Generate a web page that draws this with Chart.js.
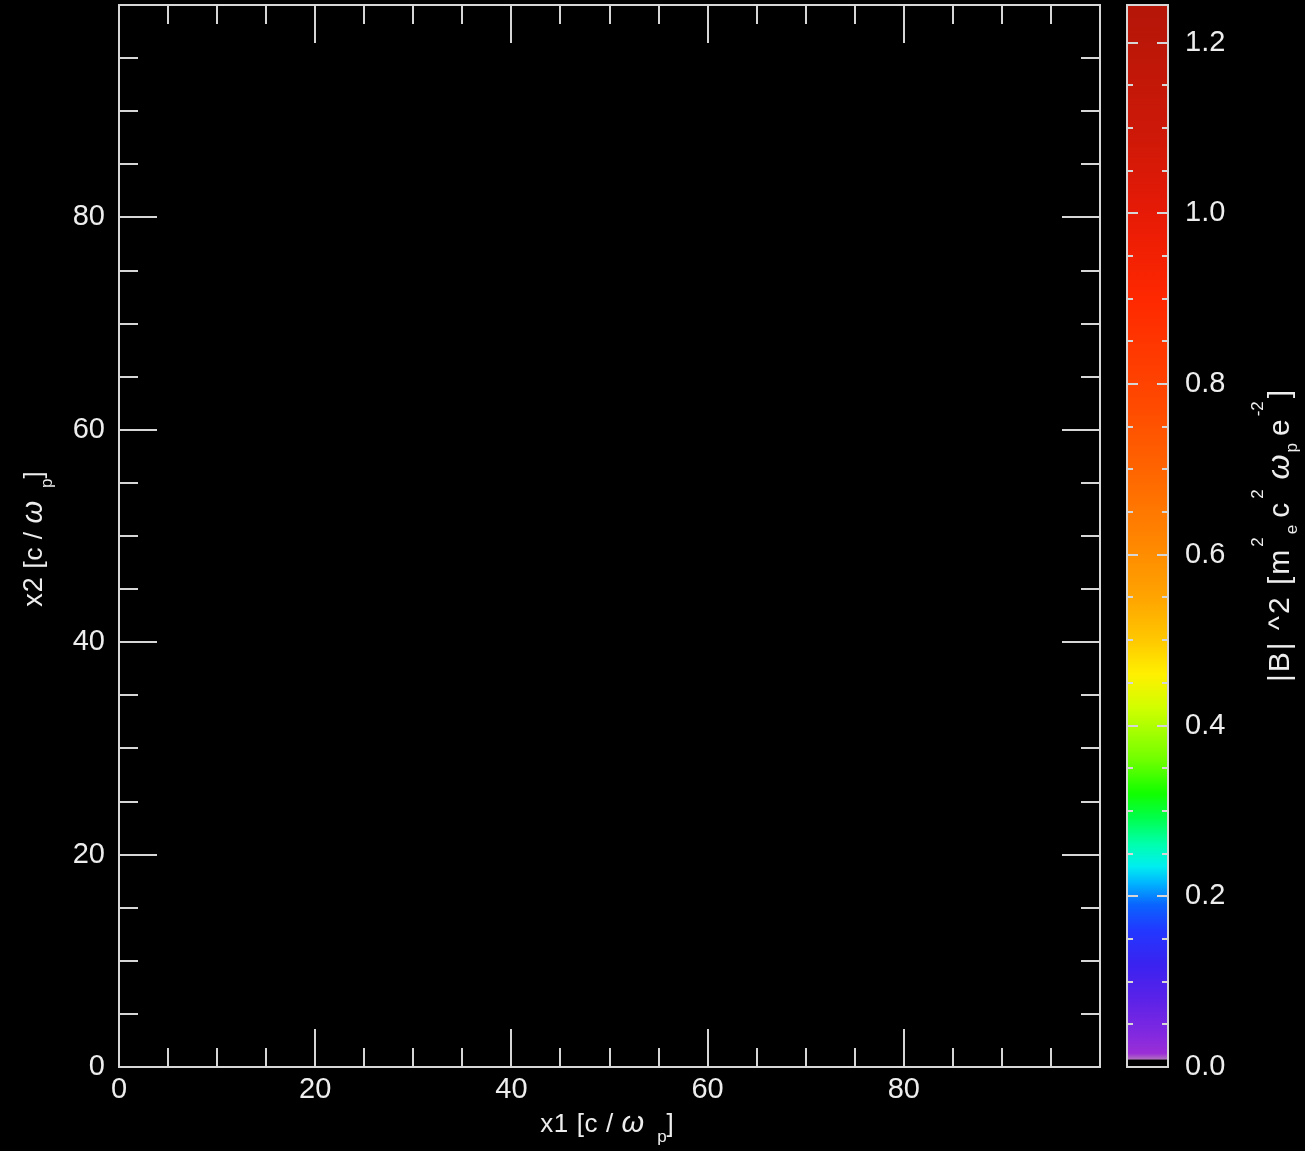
<!DOCTYPE html>
<html lang="en">
<head>
<meta charset="UTF-8">
<title>|B|^2 map</title>
<script src="https://cdn.jsdelivr.net/npm/chart.js@4"></script>
<style>
  html, body { margin: 0; padding: 0; background: #000; }
  body { width: 1305px; height: 1151px; position: relative; overflow: hidden; }
  #fieldBox { position: absolute; left: 0; top: 0; width: 1110px; height: 1151px; }
  #cbarBox { position: absolute; left: 1110px; top: 0; width: 195px; height: 1151px; }
</style>
</head>
<body>
<div id="fieldBox"><canvas id="fieldChart"></canvas></div>
<div id="cbarBox"><canvas id="cbarChart"></canvas></div>
<script>
// axes (c / omega_p)
const x1Range = [0, 100];
const x2Range = [0, 100];
const x1Labels = [0, 20, 40, 60, 80];
const x2Labels = [0, 20, 40, 60, 80];

// field cells: the whole box reads as |B|^2 = 0
const x1Edges = [0, 100];
const x2Edges = [0, 100];
const fieldB2 = [[0]];

// colour bar
const cbarRange = [0, 1.244];
const cbarLabels = [0, 0.2, 0.4, 0.6, 0.8, 1.0, 1.2];
const cmapValues = [0, 0.0085, 0.009, 0.016, 0.04, 0.08, 0.12, 0.16, 0.19, 0.215, 0.235, 0.26, 0.29, 0.32, 0.36, 0.42, 0.46, 0.5, 0.55, 0.62, 0.7, 0.78, 0.9, 1.0, 1.1, 1.244];
const cmapColors = ['#000000', '#000000', '#b070c0', '#9a2ed6', '#8028e0', '#5a22e8', '#3a22f0', '#2238ff', '#0a64ff', '#00b4ff', '#00eef0', '#00ffb0', '#00ff50', '#10ff00', '#70ff00', '#d0ff00', '#fff000', '#ffc800', '#ffa400', '#ff8400', '#ff6400', '#ff4800', '#ff2800', '#e61a06', '#cc1808', '#b41608'];

const textColor = '#ededed';
const lineColor = '#d6d6d6';
const fontFamily = '"Liberation Sans", Arial, Helvetica, sans-serif';

function hexToRgb(h) {
  return [parseInt(h.slice(1, 3), 16), parseInt(h.slice(3, 5), 16), parseInt(h.slice(5, 7), 16)];
}
function colorFor(v) {
  if (v <= cmapValues[0]) return cmapColors[0];
  for (let i = 1; i < cmapValues.length; i++) {
    if (v <= cmapValues[i]) {
      const t = (v - cmapValues[i - 1]) / (cmapValues[i] - cmapValues[i - 1]);
      const a = hexToRgb(cmapColors[i - 1]), b = hexToRgb(cmapColors[i]);
      return 'rgb(' + a.map((c, k) => Math.round(c + (b[k] - c) * t)).join(',') + ')';
    }
  }
  return cmapColors[cmapColors.length - 1];
}

// text with sub/superscripts, centred on (cx, baseline cy)
function drawRich(ctx, parts, cx, cy, rotate) {
  ctx.save();
  ctx.translate(cx, cy);
  if (rotate) ctx.rotate(-Math.PI / 2);
  ctx.fillStyle = textColor;
  ctx.textAlign = 'left';
  ctx.textBaseline = 'alphabetic';
  const setFont = p => {
    ctx.font = (p.italic ? 'italic ' : '') + p.size + 'px ' + fontFamily;
    ctx.letterSpacing = (p.ls || 0) + 'px';
  };
  let total = 0;
  parts.forEach(p => {
    setFont(p);
    p.w = ctx.measureText(p.text).width;
    total += (p.gap || 0) + p.w;
  });
  let x = -total / 2;
  parts.forEach(p => {
    x += p.gap || 0;
    setFont(p);
    ctx.fillText(p.text, x, p.dy || 0);
    x += p.w;
  });
  ctx.restore();
}

const heatmap = {
  id: 'heatmap',
  beforeDatasetsDraw(chart) {
    const { ctx, scales: { x, y } } = chart;
    ctx.save();
    fieldB2.forEach((row, j) => row.forEach((val, i) => {
      const xa = x.getPixelForValue(x1Edges[i]), xb = x.getPixelForValue(x1Edges[i + 1]);
      const ya = y.getPixelForValue(x2Edges[j]), yb = y.getPixelForValue(x2Edges[j + 1]);
      ctx.fillStyle = colorFor(val);
      ctx.fillRect(Math.min(xa, xb), Math.min(ya, yb), Math.abs(xb - xa), Math.abs(yb - ya));
    }));
    ctx.restore();
  }
};

// inward tick marks on every side + frame
const tickMarks = {
  id: 'tickMarks',
  afterDraw(chart, args, opts) {
    const { ctx, chartArea: a } = chart;
    ctx.save();
    ctx.strokeStyle = lineColor;
    ctx.lineWidth = 2;
    opts.axes.forEach(id => {
      const s = chart.scales[id];
      s.ticks.forEach(t => {
        const v = t.value;
        if (v <= s.min + 1e-9 || v >= s.max - 1e-9) return;
        const r = v / opts.major;
        const len = Math.abs(r - Math.round(r)) < 1e-6 ? opts.majorLen : opts.minorLen;
        const p = Math.round(s.getPixelForValue(v));
        ctx.beginPath();
        if (s.isHorizontal()) {
          ctx.moveTo(p, a.bottom); ctx.lineTo(p, a.bottom - len);
          ctx.moveTo(p, a.top); ctx.lineTo(p, a.top + len);
        } else {
          ctx.moveTo(a.left, p); ctx.lineTo(a.left + len, p);
          ctx.moveTo(a.right, p); ctx.lineTo(a.right - len, p);
        }
        ctx.stroke();
      });
    });
    ctx.strokeRect(a.left, a.top, a.width, a.height);
    ctx.restore();
  }
};

const fieldTitles = {
  id: 'fieldTitles',
  afterDraw(chart) {
    const ctx = chart.ctx;
    const unit = () => [
      { text: ' [c / ', size: 26, ls: 0.6 },
      { text: 'ω', size: 29, italic: true },
      { text: 'p', size: 17, dy: 10, gap: 13 },
      { text: ']', size: 26 }
    ];
    drawRich(ctx, [{ text: 'x1', size: 26, ls: 0.6 }].concat(unit()), 607, 1132, false);
    drawRich(ctx, [{ text: 'x2', size: 27, ls: 1 }].concat(unit()), 42, 539, true);
  }
};

const cbarTitle = {
  id: 'cbarTitle',
  afterDraw(chart) {
    drawRich(chart.ctx, [
      { text: '|B| ^2 [m', size: 30, ls: 2 },
      { text: '2', size: 17, dy: -26, gap: 1 },
      { text: 'e', size: 17, dy: 8, gap: 3 },
      { text: 'c', size: 30, gap: 7 },
      { text: '2', size: 17, dy: -26, gap: 4 },
      { text: 'ω', size: 32, italic: true, gap: 10 },
      { text: 'p', size: 17, dy: 8, gap: 2 },
      { text: 'e', size: 30, gap: 7 },
      { text: '-2', size: 17, dy: -26, gap: 3 },
      { text: ']', size: 30, gap: 3 }
    ], 1289 - 1110, 536, true);
  }
};

const tickFont = { family: fontFamily, size: 29 };
const noPad = s => { s.paddingTop = 0; s.paddingBottom = 0; s.paddingLeft = 0; s.paddingRight = 0; };

new Chart(document.getElementById('fieldChart'), {
  type: 'scatter',
  data: { datasets: [{ data: [], pointRadius: 0 }] },
  options: {
    animation: false,
    responsive: true,
    maintainAspectRatio: false,
    layout: { padding: { top: 5, right: 10, left: 0, bottom: 0 } },
    plugins: {
      legend: { display: false },
      tooltip: { enabled: false },
      tickMarks: { axes: ['x', 'y'], major: 20, majorLen: 38, minorLen: 19 }
    },
    scales: {
      x: {
        type: 'linear', min: x1Range[0], max: x1Range[1],
        grid: { display: false, drawTicks: false }, border: { display: false },
        ticks: {
          stepSize: 5, autoSkip: false, maxRotation: 0, padding: 6, color: textColor, font: tickFont,
          callback: v => x1Labels.includes(v) ? String(v) : ''
        },
        afterFit: s => { s.height = 84; noPad(s); }
      },
      y: {
        type: 'linear', min: x2Range[0], max: x2Range[1],
        grid: { display: false, drawTicks: false }, border: { display: false },
        ticks: {
          stepSize: 5, autoSkip: false, padding: 14, color: textColor, font: tickFont,
          callback: v => x2Labels.includes(v) ? String(v) : ''
        },
        afterFit: s => { s.width = 119; noPad(s); }
      }
    }
  },
  plugins: [heatmap, tickMarks, fieldTitles]
});

new Chart(document.getElementById('cbarChart'), {
  type: 'bar',
  data: {
    labels: ['|B|^2'],
    datasets: [{
      data: [cbarRange],
      barPercentage: 1,
      categoryPercentage: 1,
      borderWidth: 0,
      backgroundColor: c => {
        const ch = c.chart;
        if (!ch.chartArea) return '#000';
        const y = ch.scales.y;
        const g = ch.ctx.createLinearGradient(0, y.getPixelForValue(cbarRange[0]), 0, y.getPixelForValue(cbarRange[1]));
        cmapValues.forEach((v, i) => g.addColorStop((v - cbarRange[0]) / (cbarRange[1] - cbarRange[0]), cmapColors[i]));
        return g;
      }
    }]
  },
  options: {
    animation: false,
    responsive: true,
    maintainAspectRatio: false,
    layout: { padding: { top: 5, left: 17, right: 0, bottom: 84 } },
    plugins: {
      legend: { display: false },
      tooltip: { enabled: false },
      tickMarks: { axes: ['y'], major: 0.2, majorLen: 11, minorLen: 6 }
    },
    scales: {
      x: { display: false },
      y: {
        position: 'right', min: cbarRange[0], max: cbarRange[1],
        grid: { display: false, drawTicks: false }, border: { display: false },
        ticks: {
          stepSize: 0.05, autoSkip: false, padding: 17, color: textColor, font: tickFont,
          callback: v => cbarLabels.some(l => Math.abs(l - v) < 1e-6) ? v.toFixed(1) : ''
        },
        afterFit: s => { s.width = 195 - 58; noPad(s); }
      }
    }
  },
  plugins: [tickMarks, cbarTitle]
});
</script>
</body>
</html>
